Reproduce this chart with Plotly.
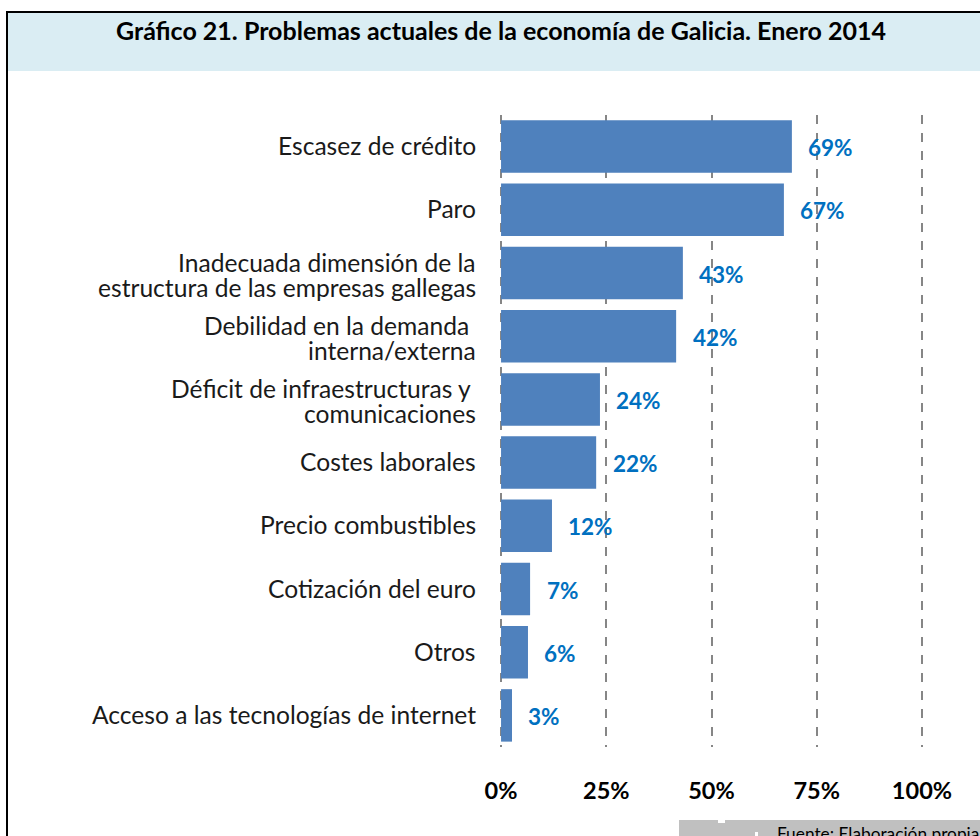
import plotly.graph_objects as go

title = "Gráfico 21. Problemas actuales de la economía de Galicia. Enero 2014"
source = "Fuente: Elaboración propia"
categories = ["Escasez de crédito", "Paro", "Inadecuada dimensión de la<br>estructura de las empresas gallegas",
              "Debilidad en la demanda <br>interna/externa", "Déficit de infraestructuras y <br>comunicaciones",
              "Costes laborales", "Precio combustibles", "Cotización del euro", "Otros",
              "Acceso a las tecnologías de internet"]
values = [69.1, 67.2, 43.2, 41.6, 23.5, 22.6, 12.1, 6.9, 6.4, 2.6]
labels = ["69%", "67%", "43%", "42%", "24%", "22%", "12%", "7%", "6%", "3%"]
tick_values = [0, 25, 50, 75, 100]
tick_labels = ["0%", "25%", "50%", "75%", "100%"]

FONT = "Lato, Carlito, Calibri, sans-serif"
L, R, T, B = 480, 943, 115, 747
W, H = 980, 836
def px(x): return (x - L) / (R - L)
def py(y): return (B - y) / (B - T)

fig = go.Figure(go.Bar(y=categories, x=values, orientation="h", marker_color="#4F81BD",
                       marker_line_width=0, width=0.83, hoverinfo="skip"))
for c, v, l in zip(categories, values, labels):
    fig.add_annotation(x=v, y=c, text=f"<b>{l}</b>", showarrow=False, xanchor="left", xshift=14.5, yshift=-1,
                       font=dict(family=FONT, size=22.5, color="#0070C0"))
    lines = c.split("<br>")
    shifts = [10.5, -14.5] if len(lines) == 2 else [1]
    for line, s in zip(lines, shifts):
        fig.add_annotation(xref="paper", x=px(478), y=c, yref="y", text=line.replace(" ", "\u00a0"), showarrow=False,
                           xanchor="right", yanchor="middle", yshift=s,
                           font=dict(family=FONT, size=24.6, color="#1a1a1a"))
fig.update_layout(
    width=W, height=H, autosize=False, margin=dict(l=L, r=W - R, t=T, b=H - B),
    paper_bgcolor="white", plot_bgcolor="rgba(0,0,0,0)", showlegend=False,
    xaxis=dict(range=[-5, 105], tickvals=tick_values, ticktext=[f"<b>{t}</b>" for t in tick_labels],
               showgrid=True, gridcolor="#868686", griddash="dash", gridwidth=1.5, zeroline=False,
               showline=False, ticks="", ticklabelstandoff=27,
               tickfont=dict(family=FONT, size=23.5, color="black"), layer="below traces"),
    yaxis=dict(autorange="reversed", showgrid=False, zeroline=False, showline=False, ticks="",
               showticklabels=False),
    shapes=[
        dict(type="rect", xref="paper", yref="paper", layer="below", x0=px(8), x1=px(980),
             y0=py(71), y1=py(13), fillcolor="#DAEDF3", line_width=0),
        dict(type="line", xref="paper", yref="paper", layer="below", x0=px(6), x1=px(980),
             y0=py(12), y1=py(12), line=dict(color="black", width=2)),
        dict(type="line", xref="paper", yref="paper", layer="below", x0=px(7), x1=px(7),
             y0=py(11), y1=py(836), line=dict(color="black", width=2)),
        dict(type="rect", xref="paper", yref="paper", layer="below", x0=px(679), x1=px(980),
             y0=py(836), y1=py(820), fillcolor="#C0C0C0", line_width=0),
        dict(type="rect", xref="paper", yref="paper", layer="below", x0=px(718), x1=px(725),
             y0=py(823), y1=py(820), fillcolor="white", line_width=0),
        dict(type="rect", xref="paper", yref="paper", layer="below", x0=px(755), x1=px(758),
             y0=py(836), y1=py(832), fillcolor="white", line_width=0),
    ],
)
fig.add_annotation(xref="paper", yref="paper", x=px(501), y=py(30), text=f"<b>{title}</b>", showarrow=False,
                   xanchor="center", yanchor="middle", font=dict(family=FONT, size=25, color="black"))
fig.add_annotation(xref="paper", yref="paper", x=px(775), y=py(821), xanchor="left", yanchor="top", text=source,
                   showarrow=False, font=dict(family=FONT, size=17.3, color="black"))
fig.write_html("out.html", config={"displayModeBar": False},
               post_script="document.body.style.margin='0';document.documentElement.style.overflow='hidden';")
